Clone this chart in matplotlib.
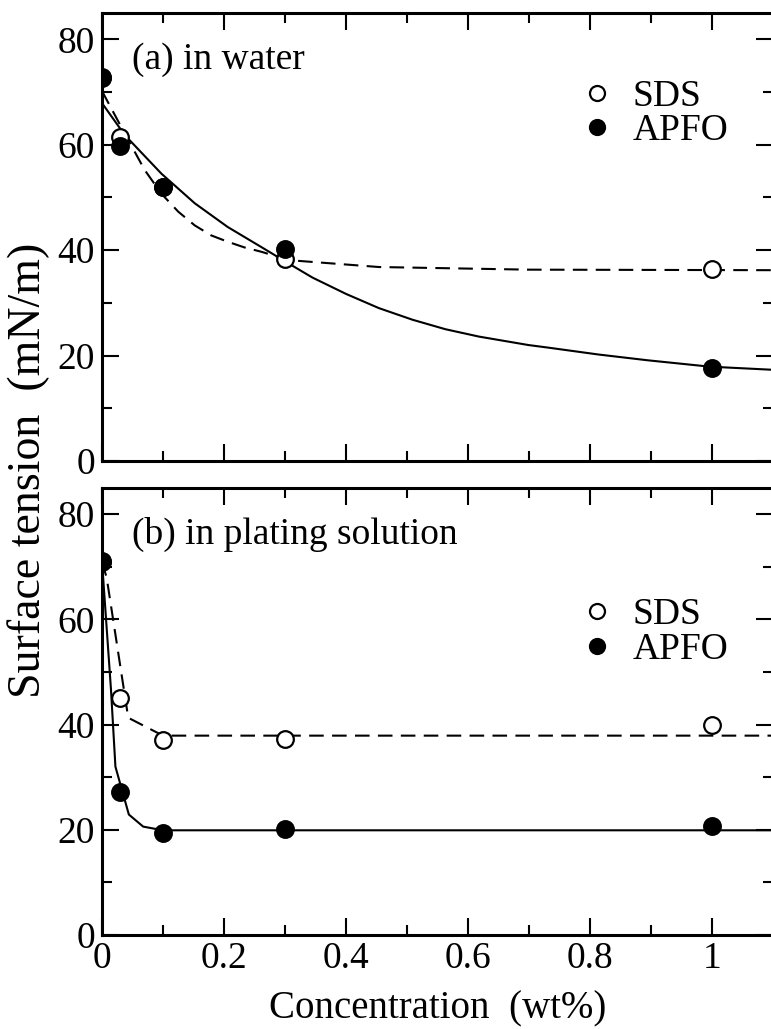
import matplotlib
matplotlib.use("Agg")
import matplotlib.pyplot as plt
from matplotlib.ticker import MultipleLocator

plt.rcParams['font.family'] = ['Liberation Serif', 'DejaVu Serif']

# measured points (wt%)
conc = [0, 0.03, 0.1, 0.3, 1.0]
water_sds = [72.7, 61.4, 51.9, 38.3, 36.4]
water_apfo = [72.8, 59.7, 51.9, 40.3, 17.7]
plating_sds = [71.0, 45.1, 37.0, 37.3, 40.0]
plating_apfo = [71.1, 27.2, 19.3, 20.1, 20.7]

# fitted curves
water_sds_fit_x = [0, 0.005, 0.043, 0.070, 0.0975, 0.125, 0.152, 0.179, 0.206,
                   0.234, 0.261, 0.307, 0.454, 0.699, 1.1]
water_sds_fit_y = [70.2, 69.1, 60.9, 55.2, 50.7, 47.3, 44.7, 42.8, 41.6,
                   40.5, 39.7, 38.1, 36.8, 36.3, 36.2]
water_apfo_fit_x = [0, 0.0376, 0.0975, 0.152, 0.206, 0.261, 0.307, 0.345, 0.40,
                    0.454, 0.509, 0.563, 0.618, 0.699, 0.732, 0.814, 0.895,
                    0.996, 1.1]
water_apfo_fit_y = [67.9, 61.8, 54.5, 48.9, 44.4, 40.6, 37.4, 34.8, 31.7,
                    29.0, 26.8, 25.0, 23.6, 22.0, 21.5, 20.2, 19.1,
                    17.9, 17.3]
plating_sds_fit_x = [0, 0.0077, 0.043, 0.1, 1.1]
plating_sds_fit_y = [71.0, 67.9, 41.3, 37.9, 37.9]
plating_apfo_fit_x = [0, 0.0147, 0.022, 0.044, 0.0675, 0.1, 1.1]
plating_apfo_fit_y = [71.0, 46.7, 32.0, 22.9, 20.6, 19.9, 19.9]

fig = plt.figure(figsize=(7.71, 10.29), dpi=100)
ax1 = fig.add_axes([0.1323, 0.5520, 0.8703, 0.4354])
ax2 = fig.add_axes([0.1323, 0.0914, 0.8703, 0.4344])

panels = [
    (ax1, water_sds_fit_x, water_sds_fit_y, water_apfo_fit_x, water_apfo_fit_y,
     water_sds, water_apfo, "(a) in water", 0.775),
    (ax2, plating_sds_fit_x, plating_sds_fit_y, plating_apfo_fit_x, plating_apfo_fit_y,
     plating_sds, plating_apfo, "(b) in plating solution", 0.677),
]

for ax, sx, sy, ax_, ay, sds, apfo, title, leg_y in panels:
    ax.plot(sx, sy, color='black', lw=1.5, ls=(0, (7, 4)), zorder=2)
    ax.plot(ax_, ay, color='black', lw=1.5, zorder=2)
    ax.plot(conc, sds, 'o', ms=12, mfc='white', mec='black', mew=1.6,
            label='SDS', zorder=3)
    ax.plot(conc, apfo, 'o', ms=12, mfc='black', mec='black', mew=1.6,
            label='APFO', zorder=4)

    ax.set_xlim(0, 1.1)
    ax.set_ylim(0, 85)
    ax.xaxis.set_major_locator(MultipleLocator(0.2))
    ax.xaxis.set_minor_locator(MultipleLocator(0.1))
    ax.yaxis.set_major_locator(MultipleLocator(20))
    ax.yaxis.set_minor_locator(MultipleLocator(10))
    ax.tick_params(which='both', direction='in', top=True, right=True,
                   width=1.5, labelsize=27, pad=5)
    ax.tick_params(which='major', length=12)
    ax.tick_params(which='minor', length=7)
    for sp in ax.spines.values():
        sp.set_linewidth(2.2)

    ax.text(0.045, 0.895, title, transform=ax.transAxes, fontsize=27,
            ha='left', va='center')
    ax.legend(loc='center left', bbox_to_anchor=(0.715, leg_y), frameon=False,
              fontsize=27, handlelength=0.8, handletextpad=0.55,
              labelspacing=0.0, borderpad=0, borderaxespad=0, markerscale=0.9)

ax1.tick_params(labelbottom=False)
ax2.set_xticks([0, 0.2, 0.4, 0.6, 0.8, 1.0])
ax2.set_xticklabels(['0', '0.2', '0.4', '0.6', '0.8', '1'])
ax2.set_xlabel("Concentration  (wt%)", fontsize=28, labelpad=10)
fig.text(29 / 771, 1 - 470 / 1029, "Surface tension  (mN/m)", rotation=90,
         fontsize=33, ha='center', va='center')

fig.savefig("out.png", dpi=100)
